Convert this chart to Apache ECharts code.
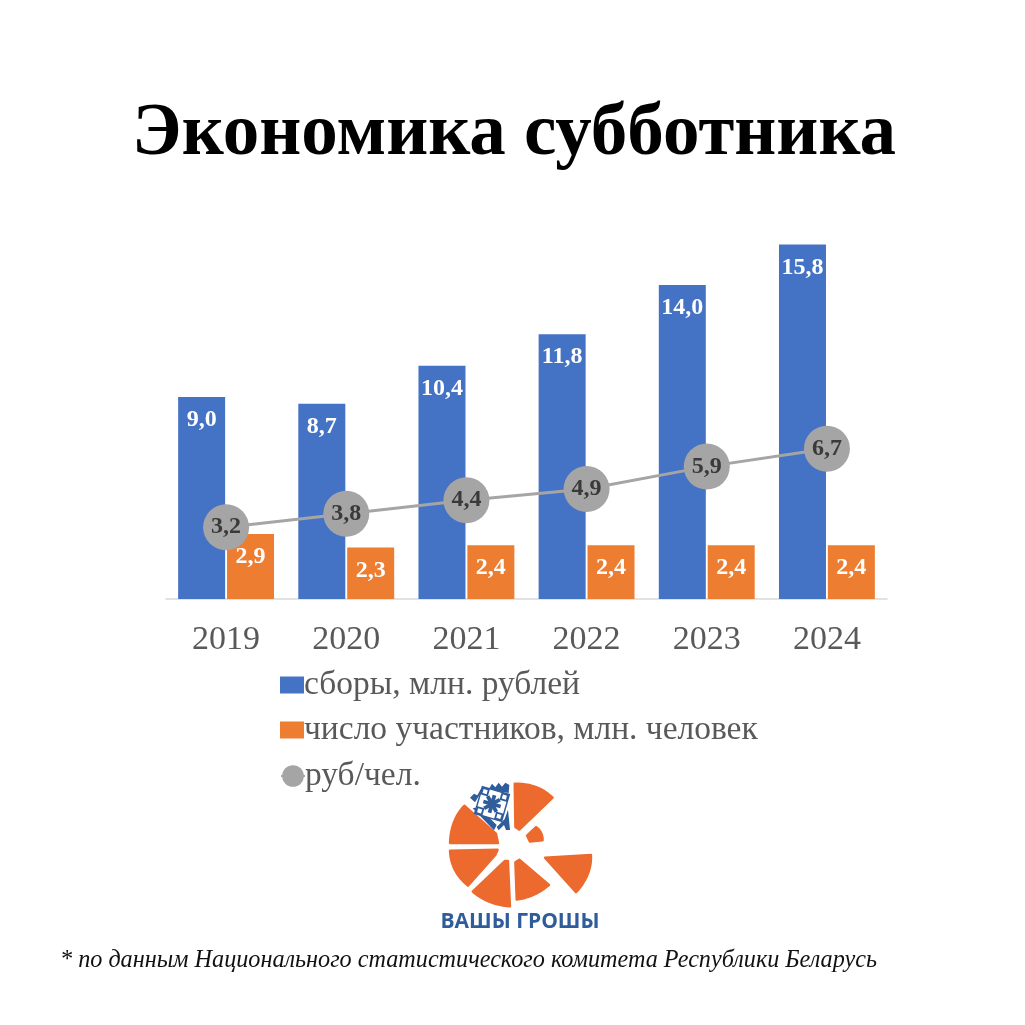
<!DOCTYPE html>
<html>
<head>
<meta charset="utf-8">
<title>Экономика субботника</title>
<script src="https://cdn.jsdelivr.net/npm/echarts@6/dist/echarts.min.js"></script>
<style>
  html, body { margin: 0; padding: 0; background: #fff; }
  #chart { width: 1025px; height: 1025px; }
</style>
</head>
<body>
<div id="chart"></div>
<script>
const years = ['2019', '2020', '2021', '2022', '2023', '2024'];
const collected = [9.0, 8.7, 10.4, 11.8, 14.0, 15.8];
const participants = [2.9, 2.3, 2.4, 2.4, 2.4, 2.4];
const perPerson = [3.2, 3.8, 4.4, 4.9, 5.9, 6.7];

const SERIF = '"Liberation Serif", "Times New Roman", serif';
const ORANGE = '#ed6a2e';
const LOGO_BLUE = '#2f5d9b';

const commaLabel = p => p.value.toFixed(1).replace('.', ',');

// curved outer edge of a logo wedge
const curve = (a, c, b) => {
  const pts = [];
  for (let i = 0; i <= 12; i++) {
    const t = i / 12, u = 1 - t;
    pts.push([u * u * a[0] + 2 * u * t * c[0] + t * t * b[0], u * u * a[1] + 2 * u * t * c[1] + t * t * b[1]]);
  }
  return pts;
};

// logo pieces, in the coordinates of a 3x crop starting at (430, 775)
const logoPieces = [
  [...curve([254,26], [322,24], [368,68]), [268,164], [256,156]],
  [...curve([318,156], [338,170], [338,196]), [300,200], [291,182]],
  [[345,248], ...curve([483,240], [486,300], [438,352])],
  [...curve([357,330], [315,366], [260,374]), [256,262], [268,254]],
  [...curve([240,394], [175,390], [128,350]), [224,258], [234,258]],
  [...curve([114,332], [62,290], [60,227]), [203,224], [196,240]],
  [...curve([60,204], [62,135], [103,92]), [198,176], [204,204]]
];

const ornamentBands = [
  [[178,40],[186,26],[196,37],[206,23],[216,35],[226,23],[238,30],[236,54],[182,46]],
  [[120,68],[132,56],[142,61],[152,43],[166,36],[172,44],[150,58],[135,82]],
  [[234,104],[240,165],[228,165],[222,150],[206,166],[200,156],[224,132]],
  [[128,100],[146,96],[200,150],[192,166]]
];

const logoGroup = {
  type: 'group',
  x: 430,
  y: 775,
  scaleX: 1 / 3,
  scaleY: 1 / 3,
  children: [
    ...logoPieces.map(pts => ({
      type: 'polygon',
      shape: { points: pts },
      style: { fill: ORANGE, stroke: ORANGE, lineWidth: 7, lineJoin: 'round' }
    })),
    ...ornamentBands.map(pts => ({
      type: 'polygon',
      shape: { points: pts },
      style: { fill: LOGO_BLUE }
    }))
  ]
};

// small embroidered square with a star
const ornamentStar = [0, 45, 90, 135].map(a => ({
  type: 'rect',
  shape: { x: -9, y: -1.9, width: 18, height: 3.8 },
  rotation: a * Math.PI / 180,
  style: { fill: LOGO_BLUE }
}));
const ornamentCorners = [[-10,-10],[10,-10],[10,10],[-10,10]].map(c => ({
  type: 'rect',
  shape: { x: c[0] - 3, y: c[1] - 3, width: 6, height: 6 },
  style: { fill: '#fff', stroke: LOGO_BLUE, lineWidth: 1.8 }
}));
const ornamentGroup = {
  type: 'group',
  x: 492,
  y: 804,
  rotation: -16 * Math.PI / 180,
  children: [
    { type: 'rect', shape: { x: -14, y: -14, width: 28, height: 28 },
      style: { fill: '#fff', stroke: LOGO_BLUE, lineWidth: 1.5 } },
    ...ornamentStar,
    ...ornamentCorners
  ]
};

const chart = echarts.init(document.getElementById('chart'), null, { renderer: 'canvas' });

const legendText = { fontFamily: SERIF, fontSize: 33.5, color: '#595959', padding: [0, 0, 0, -5], lineHeight: 34 };

chart.setOption({
  animation: false,
  backgroundColor: '#fff',
  title: {
    text: 'Экономика субботника',
    left: 509,
    top: 88,
    textAlign: 'center',
    textStyle: { fontFamily: SERIF, fontSize: 73, fontWeight: 'bold', color: '#000', lineHeight: 84 }
  },
  grid: { left: 166, width: 721, top: 240, height: 359 },
  legend: [
    {
      orient: 'vertical',
      left: 275,
      top: 663,
      itemWidth: 24,
      itemHeight: 17,
      itemGap: 11,
      selectedMode: false,
      data: [
        { name: 'сборы, млн. рублей', icon: 'rect' },
        { name: 'число участников, млн. человек', icon: 'rect' }
      ],
      textStyle: legendText
    },
    {
      orient: 'vertical',
      left: 275,
      top: 754,
      itemWidth: 24,
      itemHeight: 27,
      selectedMode: false,
      data: ['руб/чел.'],
      textStyle: legendText
    }
  ],
  xAxis: {
    type: 'category',
    data: years,
    axisTick: { show: false },
    axisLine: { lineStyle: { color: '#d9d9d9', width: 1.5 } },
    axisLabel: { fontFamily: SERIF, fontSize: 34, color: '#595959', margin: 24 }
  },
  yAxis: { type: 'value', min: 0, max: 16, show: false, splitLine: { show: false } },
  series: [
    {
      name: 'сборы, млн. рублей',
      type: 'bar',
      data: collected,
      barWidth: 47,
      barGap: '4%',
      itemStyle: { color: '#4472c4' },
      label: {
        show: true, position: 'insideTop', distance: 11, formatter: commaLabel,
        fontFamily: SERIF, fontSize: 24, fontWeight: 'bold', color: '#fff'
      }
    },
    {
      name: 'число участников, млн. человек',
      type: 'bar',
      data: participants,
      barWidth: 47,
      itemStyle: { color: '#ed7d31' },
      label: {
        show: true, position: 'insideTop', distance: 11, formatter: commaLabel,
        fontFamily: SERIF, fontSize: 24, fontWeight: 'bold', color: '#fff'
      }
    },
    {
      name: 'руб/чел.',
      type: 'line',
      data: perPerson,
      symbol: 'circle',
      symbolSize: 46,
      lineStyle: { color: '#a5a5a5', width: 3 },
      itemStyle: { color: '#a5a5a5' },
      label: {
        show: true, position: 'inside', formatter: commaLabel,
        fontFamily: SERIF, fontSize: 24, fontWeight: 'bold', color: '#3a3a3a'
      },
      z: 5
    }
  ],
  graphic: [
    logoGroup,
    ornamentGroup,
    {
      type: 'text',
      x: 520,
      y: 922,
      style: {
        text: 'ВАШЫ ГРОШЫ',
        fontFamily: '"Open Sans", "Noto Sans", sans-serif',
        fontWeight: 'bold',
        fontSize: 21,
        fill: LOGO_BLUE,
        align: 'center',
        verticalAlign: 'middle'
      }
    },
    {
      type: 'text',
      x: 60,
      y: 961,
      style: {
        text: '* по данным Национального статистического комитета Республики Беларусь',
        fontFamily: SERIF,
        fontStyle: 'italic',
        fontSize: 24.2,
        fill: '#111',
        align: 'left',
        verticalAlign: 'middle'
      }
    }
  ]
});
</script>
</body>
</html>
